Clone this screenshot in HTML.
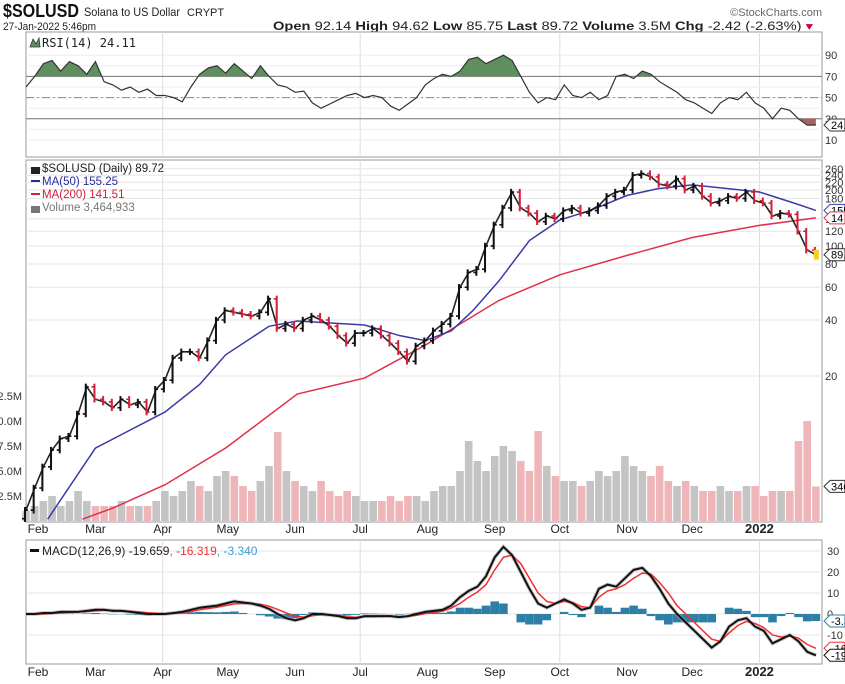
<!DOCTYPE html>
<html><head><meta charset="utf-8"><style>
body{margin:0;background:#fff;width:845px;height:684px;overflow:hidden;font-family:"Liberation Sans",sans-serif}
svg{display:block}
</style></head><body>
<svg id="c" width="845" height="684" xmlns="http://www.w3.org/2000/svg"></svg>
<script>
const closes=[3.8,5,6.5,8,9.2,9.5,12.5,17.5,15,14.5,13.5,15,14,14.5,12.8,17,19,25,27,27,25,31,40,45,44,43,42,44,52,36,38,36,40,42,40,37,33,30,34,34,36,33,30,27,24,29,31,35,38,42,60,72,75,100,130,160,195,160,150,135,145,140,155,160,150,155,165,185,195,200,240,245,235,215,210,230,200,210,185,170,175,185,180,195,175,170,145,150,148,120,95,89.72];
const ma50=[[10,3.4],[32,8.2],[64,12.8],[80,18],[92,26],[112,37],[125,39.5],[156,37.6],[172,33],[184,31],[196,35],[206,45],[218,65],[232,107],[246,138],[260,155],[277,187],[291,203],[307,213],[324,203],[338,195],[354,170],[364,155.25]];
const ma200=[[26,3.4],[40,3.9],[64,5.2],[92,8.2],[125,16],[156,19.5],[184,29.3],[218,51],[246,70],[277,89],[307,111],[338,129],[364,141.51]];
const volumes=[1.0,1.5,2.0,2.5,1.5,2.0,3.0,2.0,1.5,1.5, 1.5,2.0,1.5,1.5,1.5,2.0,3.0,2.5,3.0,4.0, 3.5,3.0,4.5,5.0,4.5,3.5,3.0,4.0,5.5,8.9, 5.0,4.0,3.5,3.0,4.0,3.0,2.5,3.0,2.5,2.0, 2.0,2.0,2.5,2.0,2.5,2.5,2.0,3.0,3.5,3.5, 5.0,8.0,6.0,5.0,6.5,7.5,7.0,6.0,5.0,9.0, 5.5,4.5,4.0,4.0,3.5,4.0,5.0,4.5,5.0,6.5, 5.5,5.0,4.5,5.5,4.0,3.5,4.0,3.5,3.0,3.0, 3.5,3.0,3.0,3.5,3.5,2.5,3.0,3.0,3.0,8.0, 10.0,3.46];
const rsi=[60,70,82,85,75,84,80,72,84,65, 62,57,60,55,58,52,52,50,46,60, 72,78,80,73,82,75,68,80,70,62, 60,55,56,45,40,44,48,52,54,50, 52,50,42,38,44,50,62,68,72,70, 75,86,88,82,86,90,85,70,55,45, 50,48,62,52,50,55,48,52,70,72, 68,75,72,65,60,55,48,45,40,35, 45,50,48,55,45,40,30,40,38,30, 24,24.11];
const macd=[0,0,0.5,0.5,1,1,1,1.5,2,2, 1.5,1.5,1,0.5,0,0,0,0.5,1,2, 3,3.5,4,5,6,5.5,5,4,2.5,0, -2,-3,-2,0,0,-0.5,-1,-2,-2,-1, -1,-1,-1,-1.5,-1,0,1,1.5,2,4, 8,11,13,18,27,32,28,20,12,5, 3,5,7,5,2,3,12,14,13,17, 21,22,18,12,5,0,-4,-8,-12,-16, -13,-6,-3,-2,-6,-8,-14,-12,-10,-13, -18,-19.659];
const signal=[0,0,0,0.3,0.6,0.8,1,1.2,1.5,1.8, 1.7,1.6,1.3,1,0.6,0.3,0.2,0.3,0.6,1.2, 2,2.6,3.2,4,4.8,5,5,4.6,3.7,2.2, 0.5,-1,-1.5,-0.8,-0.4,-0.4,-0.7,-1.3,-1.6,-1.3, -1.2,-1.1,-1,-1.2,-1.1,-0.6,0.2,0.8,1.4,2.8, 5,8,10.5,14,21,27,28,24,17,10, 6,5,6,5.5,3.5,3,8,11,12,14, 17,19.5,19,15,10,4,0,-4,-8,-12, -13,-9,-5.5,-3.5,-4.5,-6.5,-10,-11,-10.5,-11.5, -14.5,-16.319];
const months=["Feb","Mar","Apr","May","Jun","Jul","Aug","Sep","Oct","Nov","Dec","2022"];
const monthDays=[4,32,63,93,124,154,185,216,246,277,307,338];
const priceTicks=[20,40,60,80,100,120,140,180,200,220,240,260];
const rsiTicks=[10,30,50,70,90];
const macdTicks=[30,20,10,0,-10];
const volTicks=[2.5,5.0,7.5,10.0,12.5];

const L=26,R=822,STEP=4;
const xd=d=>L+2.17*d;
const xi=i=>xd(i*STEP);
const yP=p=>376-56*Math.log2(p/20);
const yV=v=>521-10*v;
const yR=v=>150.6-1.06*v;
const yM=m=>614-2.1*m;
const svg=document.getElementById('c');
const NS='http://www.w3.org/2000/svg';
function el(t,a,parent){const e=document.createElementNS(NS,t);for(const k in a)e.setAttribute(k,a[k]);(parent||svg).appendChild(e);return e;}
function txt(s,a,parent){const e=el('text',a,parent);e.textContent=s;return e;}
function pts(arr,fx,fy){return arr.map((v,i)=>fx(i).toFixed(1)+','+fy(v).toFixed(1)).join(' ');}

// header
let t=txt('$SOLUSD',{x:3,y:17,'font-size':18,'font-weight':'bold',textLength:76,lengthAdjust:'spacingAndGlyphs',fill:'#111'});

t=txt('Solana to US Dollar',{x:84,y:16,'font-size':12,textLength:96,lengthAdjust:'spacingAndGlyphs',fill:'#222'});

t=txt('CRYPT',{x:187,y:16,'font-size':11,fill:'#222'});

t=txt('©StockCharts.com',{x:822,y:16,'font-size':11,fill:'#666','text-anchor':'end'});

t=txt('27-Jan-2022 5:46pm',{x:3,y:30,'font-size':11,textLength:93,lengthAdjust:'spacingAndGlyphs',fill:'#222'});

const q=el('text',{x:273,y:30,'font-size':11.5,textLength:540,lengthAdjust:'spacingAndGlyphs',fill:'#222'});

q.innerHTML='<tspan font-weight="bold">Open</tspan> 92.14 <tspan font-weight="bold">High</tspan> 94.62 <tspan font-weight="bold">Low</tspan> 85.75 <tspan font-weight="bold">Last</tspan> 89.72 <tspan font-weight="bold">Volume</tspan> 3.5M <tspan font-weight="bold">Chg</tspan> -2.42 (-2.63%) <tspan fill="#c03">▾</tspan>';

// panels
function panel(name,y0,y1){const r=el('rect',{x:L,y:y0,width:R-L,height:y1-y0,fill:'#fff',stroke:'#999','stroke-width':1});}
panel('rsi-panel',32,157);panel('price-panel',160,522);panel('macd-panel',540,664);
[2,5,8,11].forEach(k=>{[[32,157],[160,522],[540,664]].forEach(([a,b])=>{const g=el('line',{x1:xd(monthDays[k]),x2:xd(monthDays[k]),y1:a,y2:b,stroke:'#ddd'});});});

// RSI
for(let v=10;v<=90;v+=10){const g=el('line',{x1:L,x2:R,y1:yR(v),y2:yR(v),stroke:'#eee'});}
[70,30].forEach(v=>{const g=el('line',{x1:L,x2:R,y1:yR(v),y2:yR(v),stroke:'#777'});});
let g=el('line',{x1:L,x2:R,y1:yR(50),y2:yR(50),stroke:'#888','stroke-dasharray':'8,3,2,3'});
const defs=el('defs',{});
el('rect',{x:L,y:0,width:R-L,height:yR(70)},el('clipPath',{id:'above'},defs));
el('rect',{x:L,y:yR(30),width:R-L,height:100},el('clipPath',{id:'below'},defs));
const rsiPts=pts(rsi,xi,yR);
let f=el('polygon',{points:xi(0)+','+yR(70)+' '+rsiPts+' '+xi(rsi.length-1)+','+yR(70),fill:'#5f8f5f','clip-path':'url(#above)'});

f=el('polygon',{points:xi(0)+','+yR(30)+' '+rsiPts+' '+xi(rsi.length-1)+','+yR(30),fill:'#a86060','clip-path':'url(#below)'});

let ln=el('polyline',{points:rsiPts,fill:'none',stroke:'#333','stroke-width':1.2});

rsiTicks.forEach(v=>{const tt=txt(v,{x:825,y:yR(v)+4,'font-size':11,fill:'#333'});});
t=txt('RSI(14) 24.11',{x:42,y:47,'font-size':12,'font-family':'"DejaVu Sans Mono",monospace',fill:'#222'});

el('path',{d:'M30 47 L33 39 L36 44 L39 38 L40 47 Z',fill:'#5f8f5f',stroke:'#333','stroke-width':0.8});

function tag(y,label,color,fill,name){const p=el('polygon',{points:`${R+2},${y} ${R+8},${y-6} 845,${y-6} 845,${y+6} ${R+8},${y+6}`,fill:fill,stroke:color,'stroke-width':1});const tt=txt(label,{x:R+9,y:y+4,'font-size':11,fill:'#000'});}
tag(yR(24.11),'24.','#333','#fff','rsi-value-tag');

// price grid
priceTicks.forEach(p=>{const gg=el('line',{x1:L,x2:R,y1:yP(p),y2:yP(p),stroke:'#e6e6e6'});
const tt=txt(p,{x:825,y:yP(p)+4,'font-size':11,fill:'#333'});});
volTicks.forEach(v=>{const tt=txt(v.toFixed(1)+'M',{x:22,y:yV(v)+4,'font-size':11,fill:'#333','text-anchor':'end'});});

// volume
volumes.forEach((v,i)=>{const up=i===0||closes[i]>=closes[i-1];const b=el('rect',{x:xi(i)-3.8,y:yV(v),width:7.6,height:521-yV(v),fill:up?'#c4c4c4':'#efb6b9'});

});
// moving averages
ln=el('polyline',{points:ma200.map(([d,v])=>xd(d)+','+yP(v)).join(' '),fill:'none',stroke:'#e0304a','stroke-width':1.5});

ln=el('polyline',{points:ma50.map(([d,v])=>xd(d)+','+yP(v)).join(' '),fill:'none',stroke:'#3a3aa8','stroke-width':1.5});

// price path and bars
ln=el('polyline',{points:pts(closes,xi,yP),fill:'none',stroke:'#222','stroke-width':1.6});

closes.forEach((c,i)=>{const prev=i?closes[i-1]:c*0.9;const hi=Math.max(prev,c)*1.04,lo=Math.min(prev,c)*0.96;const up=c>=prev;const col=up?'#111':'#d0203a';
const b=el('line',{x1:xi(i)-1,x2:xi(i)-1,y1:yP(hi),y2:yP(lo),stroke:col,'stroke-width':2});


const b2=el('polyline',{points:`${xi(i)-4},${yP(prev)} ${xi(i)-1},${yP(prev)} ${xi(i)-1},${yP(c)} ${xi(i)+2},${yP(c)}`,fill:'none',stroke:col,'stroke-width':1.6});

});
let m=el('rect',{x:xi(closes.length-1)-2,y:yP(closes[closes.length-1])-5,width:5,height:10,fill:'#f5d020'});

tag(yP(155.25),'155','#3a3aa8','#fff','ma50-tag');
tag(yP(141.51),'14','#e0304a','#fff','ma200-tag');
tag(yP(89.72),'89.','#333','#fff','price-tag');
tag(yV(3.46),'346','#333','#fff','volume-tag');

// price legend
const leg=[['$SOLUSD (Daily) 89.72','#222',172],['MA(50) 155.25','#2a2a9a',185],['MA(200) 141.51','#d0203a',198],['Volume 3,464,933','#777',211]];
leg.forEach(([s,c,y],k)=>{const tt=txt(s,{x:42,y:y,'font-size':11.5,fill:c});
el('rect',{x:31,y:y-5,width:9,height:k==0||k==3?7:2,fill:c});});

// month labels
months.forEach((s,k)=>{[533,676].forEach(y=>{const tt=txt(s,{x:xd(monthDays[k])-(k==0?7:0),y:y,'font-size':k==11?13:12,'font-weight':k==11?'bold':'normal',fill:'#222','text-anchor':k==0?'start':'middle'});});});

// MACD
macdTicks.forEach(v=>{const gg=el('line',{x1:L,x2:R,y1:yM(v),y2:yM(v),stroke:'#e6e6e6'});
const tt=txt(v,{x:827,y:yM(v)+4,'font-size':11,fill:'#333'});});
macd.forEach((v,i)=>{const h=v-signal[i];const b=el('rect',{x:xi(i)-4.3,y:Math.min(yM(0),yM(h)),width:8.6,height:Math.abs(yM(h)-yM(0)),fill:'#2e7fa6'});

});
ln=el('polyline',{points:pts(macd,xi,yM),fill:'none',stroke:'#aaa','stroke-width':4,opacity:0.6});

ln=el('polyline',{points:pts(signal,xi,yM),fill:'none',stroke:'#f03030','stroke-width':1.5});

ln=el('polyline',{points:pts(macd,xi,yM),fill:'none',stroke:'#111','stroke-width':2});

tag(yM(-3.34),'-3.3','#2e7fa6','#fff','macd-hist-tag');
tag(yM(-16.319),'-16','#f03030','#fff','macd-signal-tag');
tag(yM(-19.659),'-19','#111','#fff','macd-value-tag');
const ml=el('text',{x:42,y:555,'font-size':12,fill:'#222'});

ml.innerHTML='MACD(12,26,9) -19.659<tspan fill="#f03030">, -16.319</tspan><tspan fill="#3aa0d0">, -3.340</tspan>';
el('rect',{x:30,y:549,width:9,height:3,fill:'#111'});
</script>
</body></html>
